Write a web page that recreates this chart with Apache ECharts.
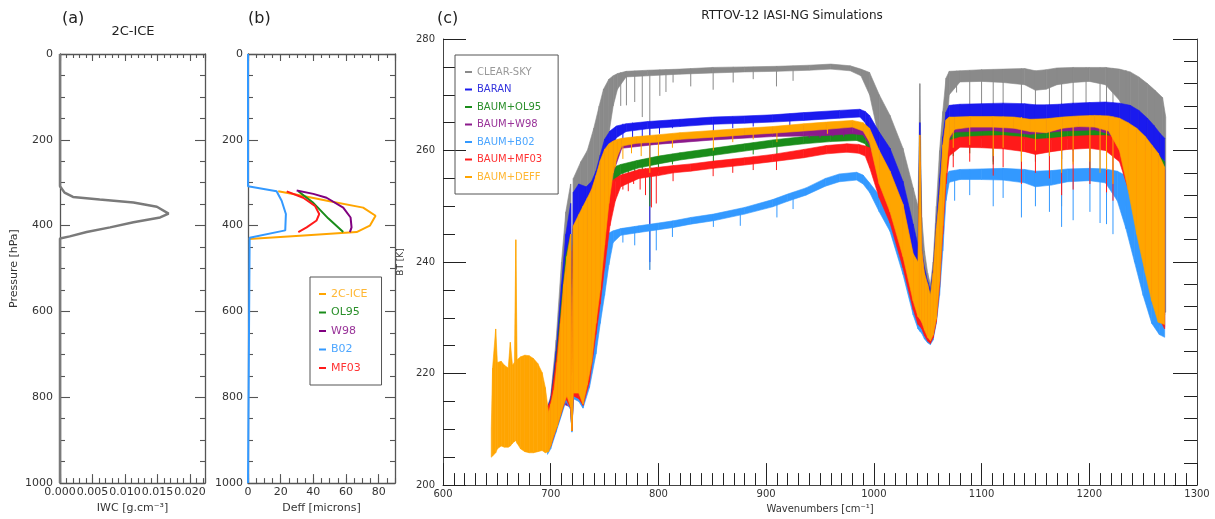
<!DOCTYPE html>
<html><head><meta charset="utf-8">
<script src="https://cdn.jsdelivr.net/npm/echarts@6/dist/echarts.min.js"></script>
<style>html,body{margin:0;padding:0;background:#fff}#c{width:1215px;height:519px}</style>
</head><body><div id="c"></div>
<script>
// ---------- Panel (a): IWC profile [IWC, pressure] ----------
const iwcProfile = [[0,0],[0,308],[0.0007,323],[0.0020,333],[0.0061,339],[0.0113,346],[0.0149,356],[0.0167,372],[0.0154,381],[0.0113,392],[0.0077,404],[0.0041,415],[0.0015,425],[0,430],[0,1000]];

// ---------- Panel (b): Deff profiles [Deff, pressure] ----------
const deff2CICE = [[18.5,320],[30,328],[50,343],[70.5,358],[78.1,377],[74.6,400],[66.5,415],[31.8,423.6],[0.5,431]];
const deffOL95 = [[30.8,320],[40,347],[49.1,383],[58.3,415]];
const deffW98 = [[29.8,318],[40,326],[48.1,335],[58.3,358],[62.8,381],[63.4,404],[62.4,415]];
const deffB02 = [[0,0],[0,308],[17.5,320],[20.6,342],[23.2,373],[22.8,411],[1,428],[0,430],[0,1000]];
const deffMF03 = [[23.7,320],[33.8,335],[41,354],[43.6,373],[42,388],[35.9,404],[30.8,415]];
const panelBNames = ['2C-ICE','OL95','W98','B02','MF03'];

// ---------- Panel (c): spectra, rows [wavenumber, upper BT, lower BT] ----------
const clearSky = [[697,214,206],[700,216,207],[705,226,210],[710,240,213],[714,249,215.5],[718.5,254,214],[719.7,218,209.7],[721,255,217],[728,258,222],[734,260,226],[740,264,234],[745,268,246],[749,271,255],[754,272.8,263],[758,273.4,268],[762,273.8,271],[770,274.2,273.2],[790,274.4,273.4],[820,274.6,273.7],[850,274.9,273.9],[880,275,274.1],[910,275.1,274.2],[940,275.3,274.4],[960,275.5,274.6],[978,275.2,274.3],[988,274.6,273.4],[996,274,270],[1005,270,262],[1015,266.3,255],[1027,260.4,246],[1036.5,253.3,238],[1041,250,232],[1042.7,272,231],[1044.5,248,230],[1047,242,228],[1050,238,226.5],[1052.5,236,225.8],[1055,240,227],[1058,250,231],[1061,260,240],[1064,267,250],[1067,273,262],[1070,274.2,270],[1080,274.3,272.3],[1100,274.5,272.4],[1120,274.6,272.2],[1140,274.7,271.8],[1150,274.3,270.8],[1160,274.5,271],[1170,274.8,271.8],[1185,274.9,272.2],[1200,274.9,272.4],[1215,274.9,271.8],[1228,274.6,269],[1238,274.1,264],[1246,273.2,257],[1254,272,248],[1261,270.8,239],[1268,269.5,231],[1271,266,231]];
const baran = [[697,214,206],[700,215.5,207],[705,224,210],[710,236,213],[714,245,215.5],[718.5,250.5,214],[719.7,218,209.7],[721,252.5,216.5],[726,254,220],[733,253.5,224],[738,254.5,230],[742,256.3,238],[746,259.2,247],[750,262,255],[755,263.5,259.5],[761,264.4,262.3],[770,264.8,263.4],[790,265.2,263.9],[820,265.6,264.3],[850,266,264.7],[880,266.2,264.9],[906,266.4,265.1],[935,266.8,265.4],[968,267.2,265.8],[987,267.4,266],[992,267,265],[996,266.3,262],[1005,263.3,255],[1015,260.4,248.5],[1027,254.5,240.5],[1036.5,246.8,232.5],[1041,243,230],[1042.7,265,229.5],[1044.5,242,229],[1047,239,227.5],[1050,236.5,226.2],[1052.5,235,225.6],[1055,238.5,226.8],[1058,247,230],[1061,255,237],[1064,262.5,247],[1067,266.9,257],[1070,268.1,264],[1080,268.3,265.6],[1100,268.4,265.7],[1120,268.5,265.8],[1140,268.4,265.5],[1150,268.2,264.8],[1160,268.2,264.8],[1172,268.3,264.5],[1185,268.5,265.5],[1200,268.6,265.6],[1215,268.7,265.4],[1228,268.5,263.5],[1238,268.1,258],[1246,267.2,250],[1254,265.8,242],[1260,264.5,236],[1266,263,231],[1270,262.2,231]];
const baumOL95 = [[697,214,206],[700,215,207],[705,222.5,210],[710,233,213],[714,241,215.5],[718.5,245,214],[719.7,218,209.7],[721,246,216.5],[728,247,220],[736,248,225],[742,251,234],[747,254,244],[752,256,250.5],[758,257,254],[765,257.5,255.8],[780,258.2,256.8],[800,259,257.6],[820,259.6,258.3],[850,260.4,259.1],[880,261.2,259.9],[906,261.9,260.6],[935,262.5,261.2],[960,263,261.6],[984,263.2,261.8],[992,262.9,261.2],[996,262.5,259],[1005,259,252.5],[1015,255,247.5],[1027,249,239.5],[1036.5,240.5,232],[1041,239.5,229.8],[1042.7,262,229.3],[1044.5,240.5,228.8],[1047,238,227.3],[1050,235.5,226],[1052.5,234,225.5],[1055,237.5,226.6],[1058,245.5,229.6],[1061,252,236.5],[1064,259.5,246.5],[1067,263,256],[1070,263.7,261.5],[1080,263.9,262.3],[1100,264,262.4],[1120,264.1,262.4],[1140,264,262.1],[1150,263.8,261.7],[1160,264,261.9],[1180,264.1,262.2],[1200,264.2,262.3],[1215,264.2,262],[1228,264,259.5],[1238,263.5,254],[1246,262.6,247],[1254,261.2,240],[1262,259.6,233],[1270,258,230.5]];
const baumW98 = [[697,214,206],[700,215,207],[706,222,210.5],[712,236,214.5],[718.5,245,214],[719.7,218,209.7],[721,246.5,216.5],[726,248.3,216.5],[734,251.3,217.5],[742,255.2,228],[750,260,242],[758,261.5,256],[766,262,260.4],[798,262.6,261.1],[851,263.4,261.9],[906,264.1,262.5],[935,264.5,262.6],[956,264.8,262.7],[980,265.1,263],[990,264.8,262.8],[996,263.8,261],[1005,259.8,253.8],[1015,256.1,248.8],[1027,250.2,240.8],[1036.5,241.3,232.8],[1041,239.8,230],[1042.7,262.5,229.5],[1044.5,241.8,229],[1047,237.8,227.5],[1050,235.8,226.2],[1052.5,233.8,225.7],[1055,237.8,226.7],[1058,245.8,229.5],[1061,251.8,236],[1064,260.8,246],[1067,265.3,255.8],[1070,265.7,262],[1075,265.7,263.3],[1110,265.8,263.6],[1145,265.3,262.9],[1175,265.7,263.5],[1205,266,263.7],[1218,265.9,263],[1228,265.5,259.5],[1236,264.7,252.5],[1244,263.7,244.5],[1252,262.2,237.5],[1258,260.7,232.5],[1264,259.2,228.8],[1270,256.7,228.3]];
const baumB02 = [[697,213,205.5],[700,214,206.5],[705,220,209.5],[710,228,212.5],[714,233,215],[718.5,236,213.5],[719.7,217.5,209.5],[721,237,215.5],[726,238.5,215],[730,239,213.8],[736,240,217.5],[742,242,223.5],[746,243.5,229],[750,244.5,234],[754,245.2,239.5],[758,245.6,243.5],[765,246,244.8],[782,246.5,245.3],[800,247,245.8],[814,247.4,246.2],[830,248,246.8],[851,248.6,247.4],[880,249.8,248.6],[906,251.2,249.9],[920,252.2,250.9],[937,253.3,252],[955,255,253.6],[968,255.8,254.4],[984,256.1,254.7],[990,255.6,254],[996,254.2,252.5],[1005,252,249],[1015,249,245.5],[1027,243,237.8],[1036.5,236,230.5],[1041,233,228],[1042.7,250,227.6],[1044.5,232,227.2],[1047,230,226.2],[1050,228.5,225.5],[1052.5,227.8,225.2],[1055,230,226],[1058,236,229],[1061,244,234],[1064,251,242],[1067,255.5,251],[1070,256.3,254.3],[1080,256.6,254.8],[1100,256.7,254.8],[1120,256.8,254.7],[1140,256.6,254.2],[1150,256.3,253.5],[1165,256.4,253.8],[1180,256.7,254.4],[1200,256.8,254.6],[1215,256.7,254.2],[1226,256.3,251],[1234,255.5,246],[1242,254,240],[1250,252,234],[1258,249.5,229],[1265,247,227],[1270,245,226.5]];
const baumMF03 = [[697,214,206],[700,215,207],[705,222,210],[710,231,213],[714,238,215.5],[718.5,242,213.8],[719.7,218,209.7],[721,243,216],[726,244.3,215.5],[730,245,214.3],[736,246,218.5],[742,248.5,227],[746,250.5,232.5],[750,252.5,239],[755,254.2,246.5],[760,255,251],[765,255.6,253.5],[782,256.6,255],[800,257,255.5],[814,257.3,256],[830,257.6,256.3],[851,258.1,256.8],[880,258.7,257.4],[906,259.3,258],[935,260.2,258.7],[956,260.9,259.4],[975,261.2,259.7],[986,261.1,259.5],[992,260.8,259],[996,260.5,257],[1005,257,251.5],[1015,253,247],[1027,247,239],[1036.5,239,231.5],[1041,237,228.8],[1042.7,258,228.5],[1044.5,237,228],[1047,234,226.8],[1050,232,225.8],[1052.5,231,225.4],[1055,234,226.4],[1058,242,229.3],[1061,249,235.5],[1064,256.5,245],[1067,260.5,254],[1070,261.8,259],[1080,262.4,260.6],[1100,262.6,260.5],[1120,262.7,260.3],[1140,262.4,259.8],[1150,262,259.3],[1165,262.2,259.8],[1180,262.5,260.2],[1200,262.7,260.4],[1215,262.7,260],[1228,262.4,258],[1238,261.8,252],[1246,261,245],[1254,259.5,238],[1262,258,231],[1270,256.5,228]];
const baumDEFF = [[644.8,210,205],[646,221,205.2],[648.9,228,205.8],[650.5,222,206.5],[654,222.2,207],[657,221.5,206.8],[660.5,221,206.8],[662.5,225.6,207],[664.5,221.5,207.5],[666.3,222,207.8],[667.6,244,208],[668.8,222.5,207.5],[672,223,206.5],[676,223.3,206],[680,223.2,205.8],[684,222.7,205.8],[688,221.8,206],[692,220.2,206.2],[695,217.5,205.8],[698,213,206],[700,214.5,207],[703,217,209],[706,222,210.5],[709,229,212.5],[712,236,214.5],[715,241,216],[718.5,245,214],[719.7,218,209.7],[721,246.5,216.5],[726,248.5,216.5],[730,250,214.5],[734,251.5,218],[738,253,222],[742,255.5,229],[746,258.2,235],[750,260.2,243],[754,261.2,250.5],[758,261.7,256],[762,262,259],[766,262.2,260.8],[780,262.5,261.3],[798,262.8,261.5],[820,263.2,262],[851,263.6,262.4],[880,264,262.8],[906,264.3,263.1],[935,264.8,263.5],[956,265.1,263.8],[980,265.4,264.2],[990,265,263.5],[996,264,261.5],[1005,260,254],[1015,256.3,249],[1027,250.4,241],[1036.5,241.5,233],[1041,240,230.2],[1042.7,262.8,229.8],[1044.5,242,229.2],[1047,238,227.8],[1050,236,226.5],[1052.5,234,225.9],[1055,238,226.9],[1058,246,229.8],[1061,252,236.5],[1064,261,246.5],[1067,265.5,256],[1070,266,262.3],[1075,266,263.8],[1090,266.1,264.2],[1110,266.1,264.2],[1130,266,264],[1145,265.6,263.4],[1160,265.7,263.2],[1175,266,264],[1190,266.2,264.3],[1205,266.3,264.2],[1218,266.2,263.5],[1228,265.8,260],[1236,265,253],[1244,264,245],[1252,262.5,238],[1258,261,233],[1264,259.5,229.2],[1270,257,228.8]];

// absorption-line dips [wavenumber, top BT, bottom BT]
const clearDips = [[765,274,268],[770.3,274.2,268.1],[778,274.3,268.7],[785,274.3,266],[792,274.4,238.6],[801.3,274.5,269.8],[807,274.5,270.5],[813.6,274.5,272.2],[830,274.7,271.5],[850.8,274.9,270.9],[869.4,275,272.2],[888,275,272.8],[909.6,275.1,271.5],[925,275.2,272.5],[1076.8,274.3,270.4],[1089,274.4,265],[1100,274.5,262],[1110.8,274.5,258],[1120,274.6,266],[1137,274.7,259],[1150,274.3,264],[1163,274.5,256],[1174.3,274.8,250],[1185,274.9,258],[1197,274.9,262],[1210,274.9,255],[1216,274.9,252],[1222,274.8,256],[1234,274.4,250]];
const baranDips = [[767,264.8,261.5],[776,265,262],[785,265.1,261.8],[792,265.2,240],[801,265.3,263],[813,265.5,264],[851,266,262.2],[869,266.1,264],[888,266.2,264.3],[922,266.6,263.8],[1073.7,268.2,263],[1089,268.3,262],[1110.8,268.4,261],[1137,268.4,260],[1150,268.2,263],[1163,268.2,259],[1174.3,268.4,258.5],[1185,268.5,260],[1200.6,268.6,261],[1216,268.7,259.5],[1222,268.6,261]];
const ol95Dips = [[767,257.5,255.3],[772,257.7,255],[778,258,256],[785,258.4,255.5],[792,258.7,250],[800,259,256.2],[813,259.4,257.5],[851,260.4,257.8],[888,261.4,259.3],[910,262,259],[1073.7,263.8,259],[1089,263.9,259.5],[1110.8,264,257.5],[1137,264,256.5],[1150,264,258],[1174.3,264.1,254.5],[1200.6,264.2,256.5],[1216,264.2,255.5]];
const w98Dips = [[940,264.5,262.3],[950,264.7,262.3],[962,264.9,262.5],[972,265,262.5]];
const b02Dips = [[767,246.1,243.5],[778,246.4,243],[792,246.8,238.6],[798,246.9,242.1],[813,247.4,244.5],[851,248.6,246.3],[876,249.6,246.5],[910,251.5,248],[925,252.5,249.5],[1075,256.4,251],[1089,256.6,252],[1110.8,256.7,250],[1120,256.8,251.5],[1137,256.7,248],[1150,256.3,250],[1163,256.4,249],[1174.3,256.5,246.3],[1185,256.7,247.5],[1200.6,256.8,249],[1210,256.8,247],[1216,256.7,246.8],[1222,256.5,245]];
const mf03Dips = [[767,255.7,253],[772,255.9,252.7],[777,256.3,254],[783,256.6,253],[788,256.8,252],[793.5,256.9,249.8],[798,257,250.5],[813.6,257.3,254.5],[850.8,258.1,255.4],[869,258.5,256],[888,258.9,256.5],[909.6,259.4,256.5],[1073.7,261.5,257],[1089,262.5,258],[1110.8,262.6,255.5],[1120,262.7,257],[1137,262.5,254],[1150,262,256],[1163,262.1,255],[1174.3,262.4,252],[1185,262.5,253],[1200.6,262.7,254],[1216,262.7,252.5],[1222,262.6,251]];
const deffDips = [[760,261.9,257],[767,262.2,258.5],[775,262.4,259.5],[784,262.6,259],[792,262.7,256],[800,262.8,259],[813,263,260.5],[851,263.6,260],[869,263.8,261.5],[888,264.1,262],[910,264.3,261.5],[957,265.1,263],[1073.7,265.6,260.5],[1089,266.1,261],[1110.8,266.1,259],[1120,266.1,260.5],[1137,266,258],[1150,265.6,260],[1163,265.7,259],[1174.3,265.9,256],[1185,266.1,257.5],[1200.6,266.3,258],[1210,266.3,256],[1216,266.2,256.5],[1222,266.1,254]];
const panelCNames = ['CLEAR-SKY','BARAN','BAUM+OL95','BAUM+W98','BAUM+B02','BAUM+MF03','BAUM+DEFF'];

// tick label arrays
const pressureTicks = [0, 200, 400, 600, 800, 1000];

// ---------- styling ----------
const FONT = 'DejaVu Sans';
const AX = '#555';
const TXT = '#333';
const colC = ['#8a8a8a','#1a1aee','#1a8c1a','#8b1a8b','#3399ff','#ff1a1a','#ffa500'];
const txtC = ['#999999','#3333dd','#2a8f2a','#993399','#4da6ff','#ff3333','#ffb733'];
const colB = ['#ffa500','#1a8c1a','#800080','#3399ff','#ff1a1a'];
const txtB = ['#ffb733','#2a8f2a','#993399','#4da6ff','#ff3333'];
const plain = v => String(Math.round(v));

function ls(w){ return {color: AX, width: w}; }

function boxXAxes(grid, min, max, major, minor, name, fmt) {
  const base = {gridIndex: grid, type: 'value', min, max, splitLine: {show: false}};
  return [
    Object.assign({}, base, {position: 'bottom', interval: major,
      axisLine: {show: true, onZero: false, lineStyle: ls(1.3)},
      axisTick: {show: true, inside: true, length: 9, lineStyle: ls(1.1)},
      axisLabel: {show: true, formatter: fmt, showMaxLabel: false, color: TXT, fontSize: 11, fontFamily: FONT, margin: 4},
      name: name, nameLocation: 'middle', nameGap: 19, nameTextStyle: {color: TXT, fontSize: 11, fontFamily: FONT}}),
    Object.assign({}, base, {position: 'bottom', interval: minor,
      axisLine: {show: false, onZero: false}, axisTick: {show: true, inside: true, length: 5, lineStyle: ls(1.1)}, axisLabel: {show: false}}),
    Object.assign({}, base, {position: 'top', interval: major,
      axisLine: {show: true, onZero: false, lineStyle: ls(1.3)}, axisTick: {show: true, inside: true, length: 7, lineStyle: ls(1.1)}, axisLabel: {show: false}}),
    Object.assign({}, base, {position: 'top', interval: minor,
      axisLine: {show: false, onZero: false}, axisTick: {show: true, inside: true, length: 4, lineStyle: ls(1.1)}, axisLabel: {show: false}})
  ];
}
function boxYAxes(grid, name, labelMargin) {
  const base = {gridIndex: grid, type: 'value', inverse: true, min: 0, max: 1000, interval: 200, splitLine: {show: false},
    axisLine: {show: true, onZero: false, lineStyle: ls(1.3)},
    axisTick: {show: true, inside: true, length: 10, lineStyle: ls(1.1)},
    minorTick: {show: true, splitNumber: 4, length: 5, lineStyle: ls(1.1)}};
  const left = Object.assign({}, base, {position: 'left',
    axisLabel: {show: true, color: TXT, fontSize: 11, fontFamily: FONT, margin: labelMargin, formatter: plain,
      customValues: pressureTicks}});
  if (name) Object.assign(left, {name: name, nameLocation: 'middle', nameGap: 40, nameTextStyle: {color: TXT, fontSize: 11, fontFamily: FONT}});
  const right = Object.assign({}, base, {position: 'right', axisLabel: {show: false}});
  return [left, right];
}

const xAxes = [].concat(
  boxXAxes(0, 0, 0.0223, 0.005, 0.001, 'IWC [g.cm⁻³]', v => v.toFixed(3)),
  boxXAxes(1, 0, 90, 20, 5, 'Deff [microns]', plain),
  [{gridIndex: 2, type: 'value', position: 'bottom', min: 600, max: 1300, interval: 100, splitLine: {show: false},
    axisLine: {show: true, onZero: false, lineStyle: {color: '#444', width: 1}},
    axisTick: {show: true, inside: true, length: 22, lineStyle: {color: '#222', width: 1}},
    minorTick: {show: true, splitNumber: 10, length: 12, lineStyle: {color: '#222', width: 1}},
    axisLabel: {color: TXT, fontSize: 10, fontFamily: FONT, margin: 4, formatter: plain},
    name: 'Wavenumbers [cm⁻¹]', nameLocation: 'middle', nameGap: 17, nameTextStyle: {color: TXT, fontSize: 10, fontFamily: FONT}}]
);
const yAxes = [].concat(
  boxYAxes(0, 'Pressure [hPa]', 7),
  boxYAxes(1, null, 5),
  [{gridIndex: 2, type: 'value', position: 'left', min: 200, max: 280, interval: 20, splitLine: {show: false},
    axisLine: {show: true, onZero: false, lineStyle: {color: '#444', width: 1}},
    axisTick: {show: true, inside: true, length: 23, lineStyle: {color: '#222', width: 1}},
    minorTick: {show: true, splitNumber: 4, length: 12, lineStyle: {color: '#222', width: 1}},
    axisLabel: {color: TXT, fontSize: 10, fontFamily: FONT, margin: 8, formatter: plain},
    name: 'BT [K]', nameLocation: 'middle', nameGap: 27, nameTextStyle: {color: TXT, fontSize: 9, fontFamily: FONT}},
   {gridIndex: 2, type: 'value', position: 'right', min: 200, max: 280, interval: 20, splitLine: {show: false},
    axisLine: {show: true, onZero: false, lineStyle: {color: '#444', width: 1}},
    axisTick: {show: true, inside: true, length: 24, lineStyle: {color: '#222', width: 1}},
    minorTick: {show: true, splitNumber: 5, length: 13, lineStyle: {color: '#222', width: 1}},
    axisLabel: {show: false}}]
);

// ---------- series ----------
const series = [];
series.push({type: 'line', name: 'IWC', xAxisIndex: 0, yAxisIndex: 0, data: iwcProfile, symbol: 'none', clip: false,
  lineStyle: {color: '#7a7a7a', width: 2.5}, itemStyle: {color: '#7a7a7a'}, z: 3});
const bData = [deff2CICE, deffOL95, deffW98, deffB02, deffMF03];
bData.forEach((d, i) => {
  series.push({type: 'line', name: panelBNames[i], xAxisIndex: 4, yAxisIndex: 2, data: d, symbol: 'none', clip: false,
    lineStyle: {color: colB[i], width: 2}, itemStyle: {color: colB[i]}, z: 3});
});

function bandSeries(name, rows, color) {
  return {type: 'custom', name, xAxisIndex: 8, yAxisIndex: 4, data: rows, encode: {x: 0, y: [1, 2]},
    itemStyle: {color},
    renderItem: (params, api) => {
      const i = params.dataIndex;
      if (i >= rows.length - 1) return null;
      const a = rows[i], b = rows[i + 1];
      return {type: 'polygon', shape: {points: [api.coord([a[0], a[1]]), api.coord([b[0], b[1]]), api.coord([b[0], b[2]]), api.coord([a[0], a[2]])]},
        style: {fill: color, stroke: color, lineWidth: 0.6}};
    }};
}
function dipSeries(name, dips, color) {
  return {type: 'custom', name, xAxisIndex: 8, yAxisIndex: 4, data: dips, encode: {x: 0, y: [1, 2]},
    itemStyle: {color},
    renderItem: (params, api) => {
      const p1 = api.coord([api.value(0), api.value(1)]);
      const p2 = api.coord([api.value(0), api.value(2)]);
      return {type: 'line', shape: {x1: p1[0], y1: p1[1], x2: p2[0], y2: p2[1]}, style: {stroke: color, lineWidth: 1}};
    }};
}
const cRows = [clearSky, baran, baumOL95, baumW98, baumB02, baumMF03, baumDEFF];
const cDips = [clearDips, baranDips, ol95Dips, w98Dips, b02Dips, mf03Dips, deffDips];
cRows.forEach((rows, i) => {
  series.push(bandSeries(panelCNames[i], rows, colC[i]));
  series.push(dipSeries(panelCNames[i], cDips[i], colC[i]));
});

const option = {
  animation: false,
  backgroundColor: '#fff',
  textStyle: {fontFamily: FONT},
  grid: [
    {left: 60, top: 54, width: 145, height: 436},
    {left: 248, top: 54, width: 147, height: 436},
    {left: 443, top: 39, width: 754, height: 452}
  ],
  xAxis: xAxes,
  yAxis: yAxes,
  legend: [
    {orient: 'vertical', left: 310, top: 277, icon: 'rect', itemWidth: 7, itemHeight: 2, itemGap: 6.5,
      padding: [11, 14, 11, 9], borderColor: '#555', borderWidth: 1, selectedMode: false,
      textStyle: {fontSize: 11, fontFamily: FONT, lineHeight: 12},
      data: panelBNames.map((n, i) => ({name: n, textStyle: {color: txtB[i]}}))},
    {orient: 'vertical', left: 455, top: 55, icon: 'rect', itemWidth: 7, itemHeight: 2, itemGap: 5.5,
      padding: [11, 16, 11, 10], borderColor: '#555', borderWidth: 1, selectedMode: false,
      textStyle: {fontSize: 10, fontFamily: FONT, lineHeight: 12},
      data: panelCNames.map((n, i) => ({name: n, textStyle: {color: txtC[i]}}))}
  ],
  graphic: [
    {type: 'text', x: 62, y: 11, style: {text: '(a)', fontSize: 16, fontFamily: FONT, fill: '#222'}},
    {type: 'text', x: 133, y: 25, style: {text: '2C-ICE', fontSize: 13, fontFamily: FONT, fill: '#222', textAlign: 'center'}},
    {type: 'text', x: 248, y: 11, style: {text: '(b)', fontSize: 16, fontFamily: FONT, fill: '#222'}},
    {type: 'text', x: 437, y: 11, style: {text: '(c)', fontSize: 16, fontFamily: FONT, fill: '#222'}},
    {type: 'text', x: 792, y: 10, style: {text: 'RTTOV-12 IASI-NG Simulations', fontSize: 12, fontFamily: FONT, fill: '#222', textAlign: 'center'}}
  ],
  series
};
const chart = echarts.init(document.getElementById('c'), null, {renderer: 'canvas'});
chart.setOption(option);
</script></body></html>
